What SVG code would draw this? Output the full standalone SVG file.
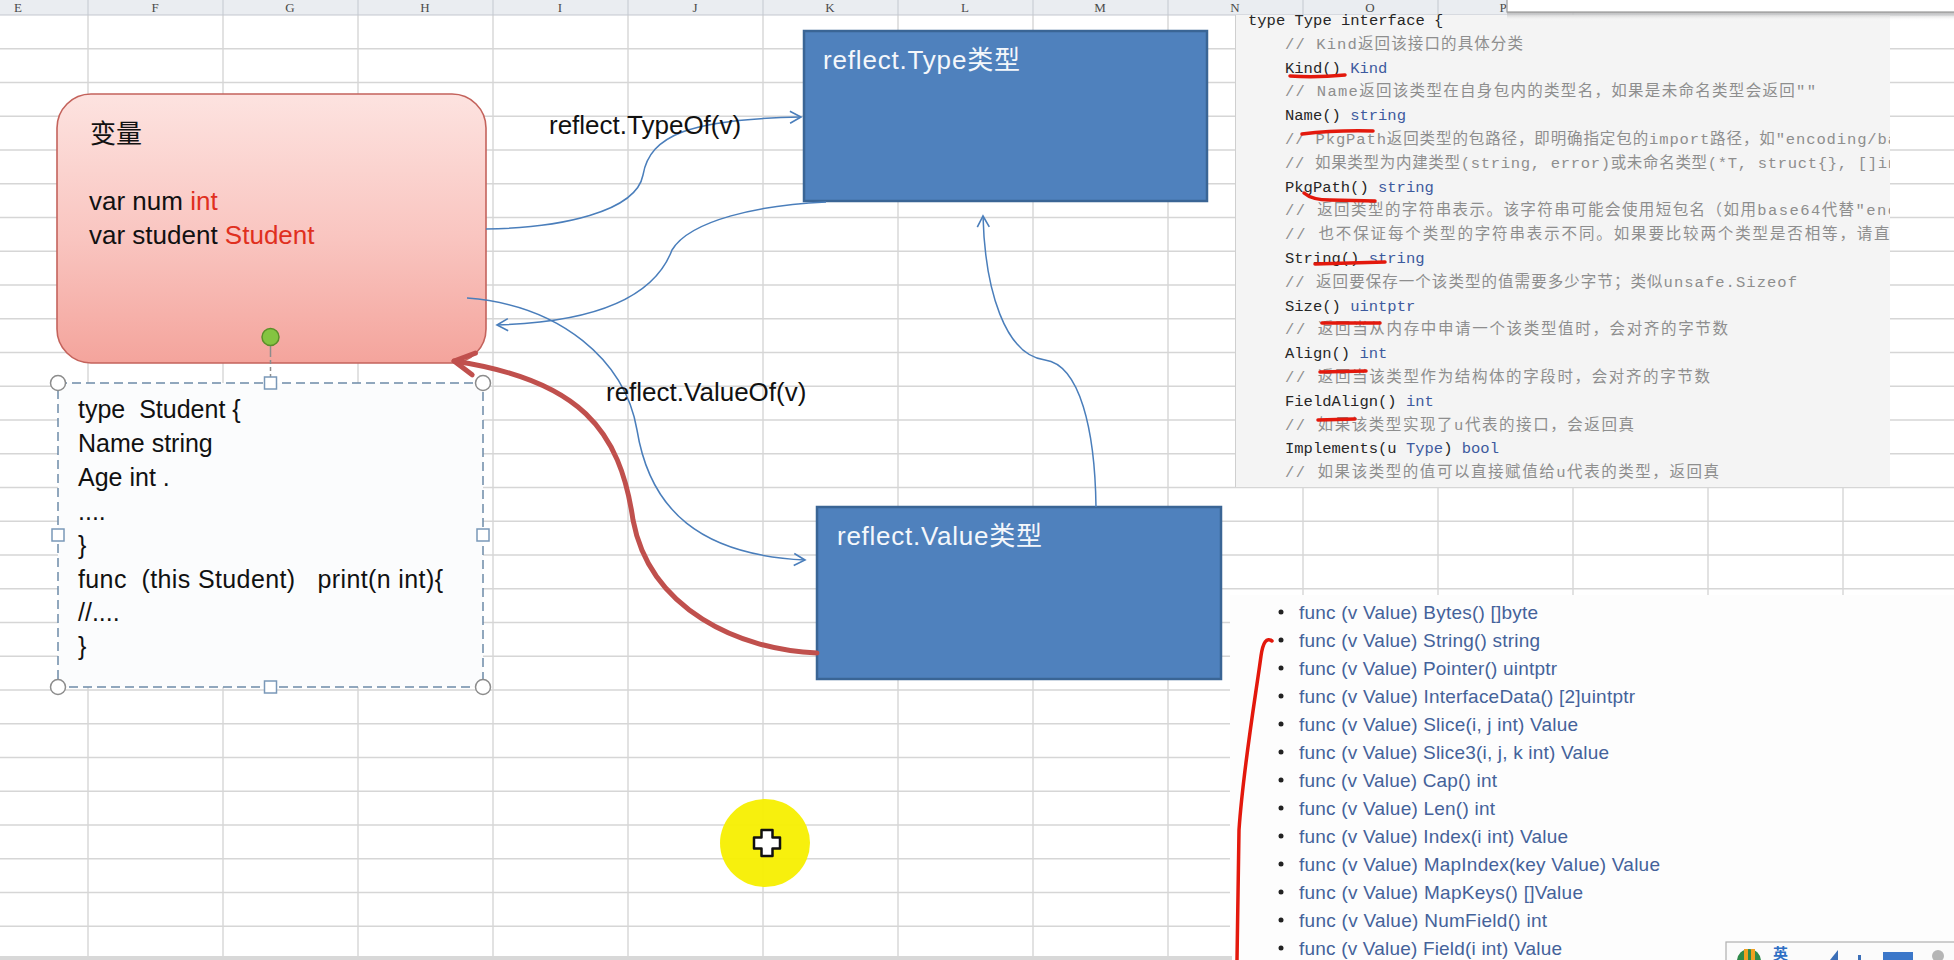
<svg xmlns="http://www.w3.org/2000/svg" width="1954" height="960" viewBox="0 0 1954 960">
<style>
.grid{stroke:#d6d6d6;stroke-width:1.4;fill:none}
.hdr{font-family:"Liberation Serif",serif;font-size:13px;fill:#4a4a4a;text-anchor:middle}
.code{font-family:"Liberation Mono","Noto Sans CJK SC",monospace;font-size:15.5px;fill:#262626}
.cm{fill:#8e8e8e}
.ty{fill:#3d5a9e}
.mark{stroke:#e3180c;stroke-width:3.5;fill:none;stroke-linecap:round}
.li{font-family:"Liberation Sans",Arial,sans-serif;font-size:19px;fill:#44629a}
.bul{fill:#222}
.txt{font-family:"Liberation Sans","Noto Sans CJK SC",sans-serif;font-size:26px;fill:#111;white-space:pre}
.stxt{font-family:"Liberation Sans",sans-serif;font-size:25px;fill:#111;white-space:pre}
.red{fill:#e0301e}
.wtxt{font-family:"Liberation Sans","Noto Sans CJK SC",sans-serif;font-size:26px;fill:#f4f7fb}
.blue{fill:#4f81bd;stroke:#3a6595;stroke-width:2.5}
.conn{fill:none;stroke:#4a7ebb;stroke-width:1.5}
.hc{fill:#fff;stroke:#8c8c8c;stroke-width:1.5}
.hs{fill:#fff;stroke:#7a98b8;stroke-width:1.5}
</style>
<defs>
<linearGradient id="pink" x1="0" y1="0" x2="0" y2="1">
<stop offset="0" stop-color="#fde3e0"/>
<stop offset="0.55" stop-color="#f9c4bf"/>
<stop offset="1" stop-color="#f4a49c"/>
</linearGradient>
<linearGradient id="shadow" x1="0" y1="0" x2="0" y2="1">
<stop offset="0" stop-color="#b0b0b0"/>
<stop offset="1" stop-color="#ffffff" stop-opacity="0"/>
</linearGradient>
<marker id="ab" markerUnits="userSpaceOnUse" markerWidth="30" markerHeight="30" viewBox="-15 -15 30 30" refX="0" refY="0" orient="auto">
<path d="M-11,-6 L0,0 L-11,6" fill="none" stroke="#4a7ebb" stroke-width="1.6"/>
</marker>
<marker id="ar" markerUnits="userSpaceOnUse" markerWidth="50" markerHeight="50" viewBox="-25 -25 50 50" refX="0" refY="0" orient="auto">
<path d="M-20,-11 L0,0 L-20,11" fill="none" stroke="#c0504d" stroke-width="5" stroke-linejoin="round" stroke-linecap="round"/>
</marker>
<clipPath id="codeclip"><rect x="1235" y="14" width="655" height="473"/></clipPath>
</defs>

<rect x="0" y="0" width="1954" height="960" fill="#ffffff"/>

<g id="grid">
<path class="grid" d="M0,48.75H1954M0,82.5H1954M0,116.25H1954M0,150H1954M0,183.75H1954M0,217.5H1954M0,251.25H1954M0,285H1954M0,318.75H1954M0,352.5H1954M0,386.25H1954M0,420H1954M0,453.75H1954M0,487.5H1954M0,521.25H1954M0,555H1954M0,588.75H1954M0,622.5H1954M0,656.25H1954M0,690H1954M0,723.75H1954M0,757.5H1954M0,791.25H1954M0,825H1954M0,858.75H1954M0,892.5H1954M0,926.25H1954"/>
<path class="grid" d="M88,15V960M223,15V960M358,15V960M493,15V960M628,15V960M763,15V960M898,15V960M1033,15V960M1168,15V960M1303,15V960M1438,15V960M1573,15V960M1708,15V960M1843,15V960"/>
</g>

<g id="column-header">
<rect x="0" y="0" width="1954" height="15" fill="#eaedf1"/>
<line x1="0" y1="15" x2="1954" y2="15" stroke="#c3c8cf" stroke-width="1.2"/>
<path d="M88,0V15M223,0V15M358,0V15M493,0V15M628,0V15M763,0V15M898,0V15M1033,0V15M1168,0V15M1303,0V15M1438,0V15M1573,0V15" stroke="#c3c8cf" stroke-width="1"/>
<text class="hdr" x="18" y="12">E</text>
<text class="hdr" x="155" y="12">F</text>
<text class="hdr" x="290" y="12">G</text>
<text class="hdr" x="425" y="12">H</text>
<text class="hdr" x="560" y="12">I</text>
<text class="hdr" x="695" y="12">J</text>
<text class="hdr" x="830" y="12">K</text>
<text class="hdr" x="965" y="12">L</text>
<text class="hdr" x="1100" y="12">M</text>
<text class="hdr" x="1235" y="12">N</text>
<text class="hdr" x="1370" y="12">O</text>
<text class="hdr" x="1503" y="12">P</text>
</g>

<g id="type-interface-doc">
<rect x="1235" y="15" width="655" height="472" fill="#f4f4f4"/>
<line x1="1235.5" y1="15" x2="1235.5" y2="487" stroke="#cfcfcf" stroke-width="1"/>
<g clip-path="url(#codeclip)">
<text class="code" x="1248" y="25">type Type interface {</text>
<text class="code cm" x="1285" y="48.8" textLength="238">// Kind返回该接口的具体分类</text>
<text class="code" x="1285" y="72.6">Kind() <tspan class="ty">Kind</tspan></text>
<text class="code cm" x="1285" y="96.4" textLength="531">// Name返回该类型在自身包内的类型名，如果是未命名类型会返回""</text>
<text class="code" x="1285" y="120.2">Name() <tspan class="ty">string</tspan></text>
<text class="code cm" x="1285" y="144" textLength="612">// PkgPath返回类型的包路径，即明确指定包的import路径，如"encoding/ba</text>
<text class="code cm" x="1285" y="167.8" textLength="612">// 如果类型为内建类型(string, error)或未命名类型(*T, struct{}, []in</text>
<text class="code" x="1285" y="191.6">PkgPath() <tspan class="ty">string</tspan></text>
<text class="code cm" x="1285" y="215.4" textLength="612">// 返回类型的字符串表示。该字符串可能会使用短包名（如用base64代替"enc</text>
<text class="code cm" x="1285" y="239.2" textLength="622">// 也不保证每个类型的字符串表示不同。如果要比较两个类型是否相等，请直接</text>
<text class="code" x="1285" y="263">String() <tspan class="ty">string</tspan></text>
<text class="code cm" x="1285" y="286.8" textLength="512">// 返回要保存一个该类型的值需要多少字节；类似unsafe.Sizeof</text>
<text class="code" x="1285" y="310.6">Size() <tspan class="ty">uintptr</tspan></text>
<text class="code cm" x="1285" y="334.4" textLength="443">// 返回当从内存中申请一个该类型值时，会对齐的字节数</text>
<text class="code" x="1285" y="358.2">Align() <tspan class="ty">int</tspan></text>
<text class="code cm" x="1285" y="382" textLength="425">// 返回当该类型作为结构体的字段时，会对齐的字节数</text>
<text class="code" x="1285" y="405.8">FieldAlign() <tspan class="ty">int</tspan></text>
<text class="code cm" x="1285" y="429.6" textLength="349">// 如果该类型实现了u代表的接口，会返回真</text>
<text class="code" x="1285" y="453.4">Implements(u <tspan class="ty">Type</tspan>) <tspan class="ty">bool</tspan></text>
<text class="code cm" x="1285" y="477.2" textLength="434">// 如果该类型的值可以直接赋值给u代表的类型，返回真</text>
</g>
<path class="mark" d="M1290,76 Q1315,78 1345,75"/>
<path class="mark" d="M1302,134 Q1335,130 1373,131"/>
<path class="mark" d="M1304,193 Q1312,200 1330,200 L1375,201"/>
<path class="mark" d="M1315,264 L1385,262"/>
<path class="mark" d="M1322,323 L1380,323"/>
<path class="mark" d="M1320,372 L1366,371"/>
<path class="mark" d="M1318,420 L1355,419"/>
</g>

<g id="value-methods-doc">
<rect x="1230" y="595" width="724" height="365" fill="#fdfdfd"/>
<circle class="bul" cx="1281" cy="612" r="2.5"/>
<circle class="bul" cx="1281" cy="640" r="2.5"/>
<circle class="bul" cx="1281" cy="668" r="2.5"/>
<circle class="bul" cx="1281" cy="696" r="2.5"/>
<circle class="bul" cx="1281" cy="724" r="2.5"/>
<circle class="bul" cx="1281" cy="752" r="2.5"/>
<circle class="bul" cx="1281" cy="780" r="2.5"/>
<circle class="bul" cx="1281" cy="808" r="2.5"/>
<circle class="bul" cx="1281" cy="836" r="2.5"/>
<circle class="bul" cx="1281" cy="864" r="2.5"/>
<circle class="bul" cx="1281" cy="892" r="2.5"/>
<circle class="bul" cx="1281" cy="920" r="2.5"/>
<circle class="bul" cx="1281" cy="948" r="2.5"/>
<text class="li" x="1299" y="618.5" textLength="239">func (v Value) Bytes() []byte</text>
<text class="li" x="1299" y="646.5" textLength="241">func (v Value) String() string</text>
<text class="li" x="1299" y="674.5" textLength="258">func (v Value) Pointer() uintptr</text>
<text class="li" x="1299" y="702.5" textLength="336">func (v Value) InterfaceData() [2]uintptr</text>
<text class="li" x="1299" y="730.5" textLength="279">func (v Value) Slice(i, j int) Value</text>
<text class="li" x="1299" y="758.5" textLength="310">func (v Value) Slice3(i, j, k int) Value</text>
<text class="li" x="1299" y="786.5" textLength="198">func (v Value) Cap() int</text>
<text class="li" x="1299" y="814.5" textLength="196">func (v Value) Len() int</text>
<text class="li" x="1299" y="842.5" textLength="269">func (v Value) Index(i int) Value</text>
<text class="li" x="1299" y="870.5" textLength="361">func (v Value) MapIndex(key Value) Value</text>
<text class="li" x="1299" y="898.5" textLength="284">func (v Value) MapKeys() []Value</text>
<text class="li" x="1299" y="926.5" textLength="248">func (v Value) NumField() int</text>
<text class="li" x="1299" y="954.5" textLength="263">func (v Value) Field(i int) Value</text>
<path d="M1272,641 Q1264,635 1261,656 C1255,700 1243,770 1239,830 L1237,960" fill="none" stroke="#e3180c" stroke-width="3.5" stroke-linecap="round"/>
</g>

<g id="node-variable">
<rect x="57" y="94" width="429" height="269" rx="34" ry="34" fill="url(#pink)" stroke="#c4635c" stroke-width="1.6"/>
<text class="txt" x="90" y="143">变量</text>
<text class="txt" x="89" y="210">var num <tspan class="red">int</tspan></text>
<text class="txt" x="89" y="244">var student <tspan class="red">Student</tspan></text>
</g>

<g id="node-student">
<rect x="58" y="383" width="425" height="304" fill="#fbfcfd" stroke="#6d8aa8" stroke-width="1.5" stroke-dasharray="9 5"/>
<text class="stxt" x="78" y="418">type  Student {</text>
<text class="stxt" x="78" y="452">Name string</text>
<text class="stxt" x="78" y="486">Age int .</text>
<text class="stxt" x="78" y="520">....</text>
<text class="stxt" x="78" y="554">}</text>
<text class="stxt" x="78" y="588" textLength="365">func  (this Student)   print(n int){</text>
<text class="stxt" x="78" y="621">//....</text>
<text class="stxt" x="78" y="655">}</text>
<line x1="270.5" y1="346" x2="270.5" y2="353" stroke="#8c8c8c" stroke-width="1.5"/>
<line x1="270.5" y1="353" x2="270.5" y2="377" stroke="#8c8c8c" stroke-width="1.5" stroke-dasharray="4 3"/>
<circle cx="270.5" cy="337" r="8.5" fill="#84c441" stroke="#5b8f2a" stroke-width="1.5"/>
<circle class="hc" cx="58" cy="383" r="7.5"/>
<circle class="hc" cx="483" cy="383" r="7.5"/>
<circle class="hc" cx="58" cy="687" r="7.5"/>
<circle class="hc" cx="483" cy="687" r="7.5"/>
<rect class="hs" x="264.5" y="377" width="12" height="12"/>
<rect class="hs" x="264.5" y="681" width="12" height="12"/>
<rect class="hs" x="52" y="529" width="12" height="12"/>
<rect class="hs" x="477" y="529" width="12" height="12"/>
</g>

<g id="node-reflect-type">
<rect class="blue" x="804" y="31" width="403" height="170"/>
<text class="wtxt" x="823" y="69" textLength="197">reflect.Type类型</text>
</g>

<g id="node-reflect-value">
<rect class="blue" x="817" y="507" width="404" height="172"/>
<text class="wtxt" x="837" y="545" textLength="205">reflect.Value类型</text>
</g>

<g id="connectors">
<path class="conn" d="M486,229 C560,228 636,212 643,175 C650,135 690,119 801,117" marker-end="url(#ab)"/>
<path class="conn" d="M826,202 C760,205 690,220 672,250 C655,295 600,322 497,325" marker-end="url(#ab)"/>
<path class="conn" d="M467,298 C560,305 625,360 637,430 C650,510 700,555 805,560" marker-end="url(#ab)"/>
<path class="conn" d="M1096,507 C1095,430 1080,365 1045,360 C1005,355 985,290 983,216" marker-end="url(#ab)"/>
<path d="M817,653 C740,650 650,610 633,520 C620,430 580,380 454,361" fill="none" stroke="#c0504d" stroke-width="5" stroke-linecap="round" marker-end="url(#ar)"/>
</g>

<g id="connector-labels">
<text class="txt" x="549" y="134">reflect.TypeOf(v)</text>
<text class="txt" x="606" y="401">reflect.ValueOf(v)</text>
</g>

<g id="cursor-highlight">
<ellipse cx="765" cy="843" rx="45" ry="44" fill="#f7ef00" fill-opacity="0.95"/>
<polygon points="761.5,830 772.5,830 772.5,837.5 780,837.5 780,848.5 772.5,848.5 772.5,856 761.5,856 761.5,848.5 754,848.5 754,837.5 761.5,837.5" fill="#ffffff" stroke="#111" stroke-width="2.5" stroke-linejoin="round"/>
</g>

<g id="overlays">
<rect x="1507" y="12" width="447" height="9" fill="url(#shadow)"/>
<rect x="1507" y="-3" width="460" height="15" fill="#ffffff" stroke="#9a9a9a" stroke-width="1.2"/>
<rect x="0" y="956" width="1232" height="4" fill="#d8d8d8"/>
<rect x="1726" y="942" width="240" height="30" fill="#fbfbfb" stroke="#b0b0b0" stroke-width="1.2"/>
<circle cx="1749" cy="961" r="12" fill="#2f8a4a"/>
<rect x="1744" y="949" width="4" height="14" fill="#f0a020"/>
<rect x="1751" y="949" width="4" height="14" fill="#f0a020"/>
<text x="1773" y="959" font-family="Noto Sans CJK SC, sans-serif" font-size="15" font-weight="bold" fill="#2f6fc4">英</text>
<path d="M1830,960 L1838,950 L1838,960 Z" fill="#3b6fb8"/>
<rect x="1858" y="955" width="3" height="5" fill="#3b6fb8"/>
<rect x="1883" y="952" width="30" height="9" fill="#3b77c9"/>
<circle cx="1938" cy="956" r="6" fill="#b5b5b5"/>
</g>
</svg>
